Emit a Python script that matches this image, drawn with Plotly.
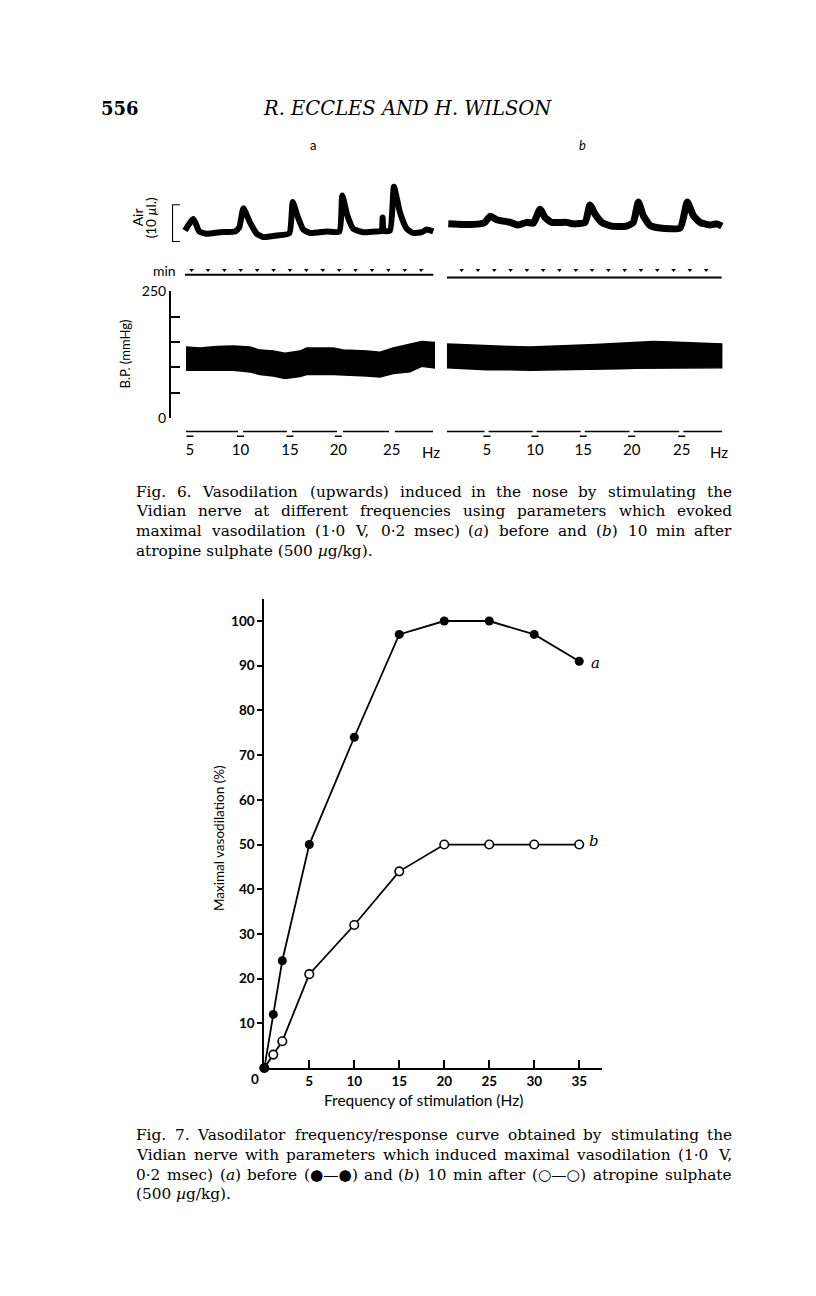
import re
import plotly.graph_objects as go

W, H = 816, 1296

# ---------------- Fig. 7 data ----------------
freq_hz = [0, 1, 2, 5, 10, 15, 20, 25, 30, 35]
before_atropine = [0, 12, 24, 50, 74, 97, 100, 100, 97, 91]
after_atropine = [0, 3, 6, 21, 32, 44, 50, 50, 50, 50]
y_ticks7 = [10, 20, 30, 40, 50, 60, 70, 80, 90, 100]
x_ticks7 = [5, 10, 15, 20, 25, 30, 35]

# ---------------- Fig. 6 data (time in min) ----------------
air_a_t = [0, 0.51, 0.87, 1.32, 2.13, 3.05, 3.31, 3.56, 3.96, 4.37, 4.78, 5.59, 6.36, 6.57, 6.85,
           7.21, 7.62, 8.64, 9.41, 9.59, 9.9, 10.26, 10.87, 11.69, 11.99, 12.05, 12.12, 12.5,
           12.74, 13.11, 13.52, 13.92, 14.43, 14.74, 15.14]
air_a_ul = [3.05, 6.1, 2.8, 2.2, 2.6, 2.8, 3.9, 8.9, 5.2, 2.2, 1.3, 1.7, 2.3, 10.6, 7.0,
            3.3, 2.4, 2.8, 2.8, 12.3, 7.0, 3.5, 2.6, 2.8, 2.95, 6.5, 2.95, 3.05,
            14.6, 7.8, 3.5, 2.4, 2.6, 3.3, 2.8]
air_b_t = [0.08, 1.0, 2.02, 2.33, 2.64, 3.05, 3.87, 4.37, 4.89, 5.3, 5.71, 6.01, 6.42, 7.34,
           7.75, 8.47, 8.77, 9.08, 9.49, 10.1, 11.02, 11.43, 11.74, 12.04, 12.45, 13.07,
           14.3, 14.74, 15.11, 15.52, 16.13, 16.55, 16.86]
air_b_ul = [4.8, 4.6, 4.8, 5.2, 6.8, 5.9, 5.2, 4.5, 5.2, 5.0, 8.7, 6.5, 5.2, 5.2,
            4.8, 5.2, 9.8, 7.4, 5.2, 4.2, 4.2, 5.2, 10.6, 7.0, 4.4, 3.7,
            3.7, 10.6, 7.0, 5.2, 4.5, 4.8, 4.2]
air_scale_ul = 10

bp_a_t = [0.06, 0.91, 1.93, 2.95, 3.96, 4.57, 5.38, 6.10, 7.01, 7.42, 9.04, 9.65, 11.08,
          11.89, 12.70, 13.72, 14.43, 15.20]
bp_a_sys = [140, 138, 141, 142, 140, 134, 132, 128, 132, 138, 138, 134, 132, 130, 138, 146, 151, 149]
bp_a_dia = [94, 93, 94, 94, 91, 86, 83, 78, 82, 86, 86, 86, 83, 81, 88, 91, 102, 99]

bp_b_t = [0.0, 1.2, 2.44, 3.8, 5.09, 6.3, 7.55, 9.1, 10.61, 11.6, 12.66, 13.7, 14.71, 15.8, 16.85]
bp_b_sys = [146, 144, 143, 141, 140, 141, 143, 145, 147, 149, 151, 150, 149, 148, 146]
bp_b_dia = [99, 97, 95, 95, 94, 95, 95, 96, 97, 98, 99, 99, 99, 99, 99]
bp_ticks = [0, 50, 100, 150, 200, 250]

min_marks_a = [0.4, 1.4, 2.4, 3.4, 4.4, 5.4, 6.4, 7.4, 8.4, 9.4, 10.4, 11.4, 12.4, 13.4, 14.4]
min_marks_b = [0.9, 1.9, 2.9, 3.9, 4.9, 5.9, 6.9, 7.9, 8.9, 9.9, 10.9, 11.9, 12.9, 13.9, 14.9, 15.9]

stim_a_t = [0.3, 3.38, 6.4, 9.35, 12.6]
stim_b_t = [2.45, 5.4, 8.36, 11.33, 14.4]
stim_freq = ["5", "10", "15", "20", "25"]
stim_line_a_t = [0.06, 3.23, None, 3.54, 6.22, None, 6.52, 9.27, None, 9.63, 12.44, None, 12.8, 15.12]
stim_line_b_t = [0.0, 2.3, None, 2.55, 5.25, None, 5.5, 8.2, None, 8.45, 11.2, None, 11.45, 14.25,
                 None, 14.5, 16.87]

# ---------------- page geometry ----------------
OX = -8
DY_HEAD = -14
DY_F6 = -12
DY_CAP6 = -9
DY_F7 = -8
DY_CAP7 = -4


def fx(px):
    return (px + OX) / W


def fy(py, dy):
    return 1 - (py + dy) / H


A_X = (171, 436)
B_X = (440, 726)
A_T0, A_S = 185, 16.4
B_T0, B_S = 447, 16.3
AIR_Y = (176, 282)
AIR_BASE, AIR_S = 240, 3.83
BP_Y = (290, 418.3)
STIM_Y = (424, 440)
F7_X = (264.3, 601.7)
F7_Y = (597.4, 1073)

range_a = [(A_X[0] - A_T0) / A_S, (A_X[1] - A_T0) / A_S]
range_b = [(B_X[0] - B_T0) / B_S, (B_X[1] - B_T0) / B_S]
air_range = [(AIR_BASE - AIR_Y[1]) / AIR_S, (AIR_BASE - AIR_Y[0]) / AIR_S]
min_dot_v = (AIR_BASE - 268.3) / AIR_S
min_line_va = (AIR_BASE - 273.3) / AIR_S
min_line_vb = (AIR_BASE - 276) / AIR_S

SANS = "Lato"
SERIF = "DejaVu Serif"

fig = go.Figure()

# Air traces
fig.add_trace(go.Scatter(x=air_a_t, y=air_a_ul, mode="lines",
                         line=dict(color="black", width=6, shape="spline", smoothing=0.5),
                         xaxis="x", yaxis="y"))
fig.add_trace(go.Scatter(x=air_b_t, y=air_b_ul, mode="lines",
                         line=dict(color="black", width=7, shape="spline", smoothing=0.5),
                         xaxis="x2", yaxis="y2"))
# minute marks
fig.add_trace(go.Scatter(x=min_marks_a, y=[min_dot_v] * len(min_marks_a), mode="markers",
                         marker=dict(symbol="triangle-down", size=4, color="black"),
                         xaxis="x", yaxis="y"))
fig.add_trace(go.Scatter(x=[air_a_t[0], air_a_t[-1]], y=[min_line_va] * 2, mode="lines",
                         line=dict(color="black", width=2), xaxis="x", yaxis="y"))
fig.add_trace(go.Scatter(x=min_marks_b, y=[min_dot_v] * len(min_marks_b), mode="markers",
                         marker=dict(symbol="triangle-down", size=4, color="black"),
                         xaxis="x2", yaxis="y2"))
fig.add_trace(go.Scatter(x=[bp_b_t[0], bp_b_t[-1]], y=[min_line_vb] * 2, mode="lines",
                         line=dict(color="black", width=2), xaxis="x2", yaxis="y2"))

# BP bands
fig.add_trace(go.Scatter(x=bp_a_t + bp_a_t[::-1], y=bp_a_sys + bp_a_dia[::-1], mode="lines",
                         fill="toself", fillcolor="black", line=dict(color="black", width=1.5),
                         xaxis="x3", yaxis="y3"))
fig.add_trace(go.Scatter(x=bp_b_t + bp_b_t[::-1], y=bp_b_sys + bp_b_dia[::-1], mode="lines",
                         fill="toself", fillcolor="black", line=dict(color="black", width=1.5),
                         xaxis="x4", yaxis="y4"))

# stimulus lines
fig.add_trace(go.Scatter(x=stim_line_a_t, y=[0 if t is not None else None for t in stim_line_a_t],
                         mode="lines", line=dict(color="black", width=1.5), connectgaps=False,
                         xaxis="x5", yaxis="y5"))
fig.add_trace(go.Scatter(x=stim_a_t[:4], y=[-0.6] * 4, mode="markers",
                         marker=dict(symbol="line-ew", size=5, line=dict(color="black", width=1.5)),
                         xaxis="x5", yaxis="y5"))
fig.add_trace(go.Scatter(x=stim_line_b_t, y=[0 if t is not None else None for t in stim_line_b_t],
                         mode="lines", line=dict(color="black", width=1.5), connectgaps=False,
                         xaxis="x6", yaxis="y6"))
fig.add_trace(go.Scatter(x=stim_b_t, y=[-0.6] * 5, mode="markers",
                         marker=dict(symbol="line-ew", size=5, line=dict(color="black", width=1.5)),
                         xaxis="x6", yaxis="y6"))
# air scale bracket (10 ul)
fig.add_trace(go.Scatter(x=[1, 0, 0, 1], y=[air_scale_ul, air_scale_ul, 0, 0], mode="lines",
                         line=dict(color="black", width=2.2), xaxis="x7", yaxis="y7",
                         cliponaxis=False))

# Fig 7 curves
fig.add_trace(go.Scatter(x=freq_hz, y=before_atropine, mode="lines+markers",
                         line=dict(color="black", width=1.8),
                         marker=dict(symbol="circle", size=9, color="black"),
                         xaxis="x8", yaxis="y8", cliponaxis=False))
fig.add_trace(go.Scatter(x=freq_hz, y=after_atropine, mode="lines+markers",
                         line=dict(color="black", width=1.8),
                         marker=dict(symbol="circle", size=8.5, color="white",
                                     line=dict(color="black", width=1.6)),
                         xaxis="x8", yaxis="y8", cliponaxis=False))
fig.add_trace(go.Scatter(x=freq_hz[:1], y=before_atropine[:1], mode="markers",
                         marker=dict(symbol="circle", size=9, color="black"),
                         xaxis="x8", yaxis="y8", cliponaxis=False))

hidden = dict(visible=False, showgrid=False, zeroline=False)


def xdom(p):
    return [fx(p[0]), fx(p[1])]


def ydom(p, dy):
    return [fy(p[1], dy), fy(p[0], dy)]


layout = dict(
    width=W, height=H, margin=dict(l=0, r=0, t=0, b=0),
    paper_bgcolor="white", plot_bgcolor="rgba(0,0,0,0)", showlegend=False,
    xaxis=dict(hidden, domain=xdom(A_X), range=range_a, anchor="y"),
    yaxis=dict(hidden, domain=ydom(AIR_Y, DY_F6), range=air_range, anchor="x"),
    xaxis2=dict(hidden, domain=xdom(B_X), range=range_b, anchor="y2"),
    yaxis2=dict(hidden, domain=ydom(AIR_Y, DY_F6), range=air_range, anchor="x2"),
    xaxis3=dict(hidden, domain=xdom(A_X), range=range_a, anchor="y3"),
    yaxis3=dict(domain=ydom(BP_Y, DY_F6), range=[0, 250], anchor="x3",
                showline=True, linecolor="black", linewidth=2, ticks="inside", ticklen=9,
                tickwidth=2, tickcolor="black", tickvals=bp_ticks,
                ticktext=["0", "", "", "", "", "250"], showgrid=False, zeroline=False,
                tickfont=dict(family=SANS, size=14, color="black")),
    xaxis4=dict(hidden, domain=xdom(B_X), range=range_b, anchor="y4"),
    yaxis4=dict(hidden, domain=ydom(BP_Y, DY_F6), range=[0, 250], anchor="x4"),
    xaxis5=dict(domain=xdom(A_X), range=range_a, anchor="y5",
                showline=False, showgrid=False, zeroline=False, ticks="",
                tickvals=stim_a_t, ticktext=stim_freq,
                tickfont=dict(family=SANS, size=15, color="black")),
    yaxis5=dict(hidden, domain=ydom(STIM_Y, DY_F6), range=[-1, 1], anchor="x5"),
    xaxis6=dict(domain=xdom(B_X), range=range_b, anchor="y6",
                showline=False, showgrid=False, zeroline=False, ticks="",
                tickvals=stim_b_t, ticktext=stim_freq,
                tickfont=dict(family=SANS, size=15, color="black")),
    yaxis6=dict(hidden, domain=ydom(STIM_Y, DY_F6), range=[-1, 1], anchor="x6"),
    xaxis7=dict(hidden, domain=xdom((172, 180)), range=[0, 1], anchor="y7"),
    yaxis7=dict(hidden, domain=ydom((201.7, 240), DY_F6), range=[0, air_scale_ul], anchor="x7"),
    xaxis8=dict(domain=xdom(F7_X), range=[0, 37.5], anchor="y8",
                showline=True, linecolor="black", linewidth=2, ticks="inside", ticklen=8,
                tickwidth=2, tickcolor="black", tickvals=x_ticks7, showgrid=False,
                zeroline=False, tickfont=dict(family=SANS, size=13.5, color="black", weight="bold")),
    yaxis8=dict(domain=ydom(F7_Y, DY_F7), range=[0, 105], anchor="x8",
                showline=True, linecolor="black", linewidth=2, ticks="outside", ticklen=5,
                tickwidth=2, tickcolor="black", tickvals=y_ticks7, showgrid=False,
                zeroline=False, tickfont=dict(family=SANS, size=13.5, color="black", weight="bold")),
)
fig.update_layout(**layout)


def ann(text, px, py, dy, size, family=SANS, xanchor="center", angle=0, **kw):
    fig.add_annotation(text=text, x=fx(px), y=fy(py, dy), xref="paper", yref="paper",
                       xanchor=xanchor, yanchor="middle", showarrow=False, textangle=angle,
                       borderpad=0, font=dict(family=family, size=size, color="black", **kw))


# approximate DejaVu Serif advance widths (em) for justification
CW = {' ': .318, '.': .318, ',': .318, '(': .39, ')': .39, '/': .337, '·': .318, '—': 1.0,
      '●': .85, '○': .85, 'µ': .64, 'a': .596, 'b': .64, 'c': .56, 'd': .64, 'e': .592, 'f': .37,
      'g': .64, 'h': .644, 'i': .32, 'j': .31, 'k': .606, 'l': .32, 'm': .948, 'n': .644,
      'o': .602, 'p': .64, 'q': .64, 'r': .478, 's': .513, 't': .402, 'u': .644, 'v': .565,
      'w': .87, 'x': .564, 'y': .58, 'z': .527, 'F': .72, 'V': .77, 'I': .37}


def text_w(s, size):
    plain = re.sub(r"<[^>]+>", "", s)
    tot = 0
    for ch in plain:
        if ch in CW:
            tot += CW[ch]
        elif ch.isdigit():
            tot += .636
        elif ch.isupper():
            tot += .74
        else:
            tot += .6
    return tot * size * 1.01


def justified(line, left, right, py, dy, size):
    words = line.split(" ")
    ws = [text_w(w, size) for w in words]
    gap = (right - left - sum(ws)) / (len(words) - 1)
    n = len(words)
    half = n // 2
    pos = left
    for i in range(half):
        ann(words[i], pos, py, dy, size, SERIF, xanchor="left")
        pos += ws[i] + gap
    pos = right
    for i in range(n - 1, half - 1, -1):
        ann(words[i], pos, py, dy, size, SERIF, xanchor="right")
        pos -= ws[i] + gap


CAP_SIZE = 15.3

# header
ann("<b>556</b>", 100, 107, DY_HEAD, 18, SERIF, xanchor="left")
ann("<i>R. ECCLES AND H. WILSON</i>", 407, 107, DY_HEAD, 19.5, SERIF)

# fig 6 labels
ann("a", 313, 144, DY_HEAD, 13)
ann("<i>b</i>", 582, 144, DY_HEAD, 13)
ann("Air", 137, 215, DY_F6, 14, angle=-90)
ann("(10 <i>µ</i>l.)", 151, 216, DY_F6, 13.5, angle=-90)
ann("min", 177, 269, DY_F6, 14, xanchor="right")
ann("B.P. (mmHg)", 125, 353, DY_F6, 13, angle=-90)
ann("Hz", 431, 453, DY_F6, 15)
ann("Hz", 719, 453, DY_F6, 15)

cap6 = [
    "Fig. 6. Vasodilation (upwards) induced in the nose by stimulating the",
    "Vidian nerve at different frequencies using parameters which evoked",
    "maximal vasodilation (1·0 V, 0·2 msec) (<i>a</i>) before and (<i>b</i>) 10 min after",
    "atropine sulphate (500 <i>µ</i>g/kg).",
]
for i, line in enumerate(cap6):
    if i < 3:
        justified(line, 135, 733, 490 + 20 * i, DY_CAP6, CAP_SIZE)
    else:
        ann(line, 135, 490 + 20 * i, DY_CAP6, CAP_SIZE, SERIF, xanchor="left")

# fig 7 labels
ann("<b>0</b>", 255, 1084, DY_F7, 13.5)
ann("Frequency of stimulation (Hz)", 423, 1105, DY_F7, 15.5)
ann("Maximal vasodilation (%)", 219, 840, DY_F7, 13.5, angle=-90)
ann("<i>a</i>", 595, 663, DY_F7, 15, SERIF)
ann("<i>b</i>", 594, 843, DY_F7, 15, SERIF)

cap7 = [
    "Fig. 7. Vasodilator frequency/response curve obtained by stimulating the",
    "Vidian nerve with parameters which induced maximal vasodilation (1·0 V,",
    "0·2 msec) (<i>a</i>) before (●—●) and (<i>b</i>) 10 min after (○—○) atropine sulphate",
    "(500 <i>µ</i>g/kg).",
]
for i, line in enumerate(cap7):
    if i < 3:
        justified(line, 135, 733, 1137 + 20 * i, DY_CAP7, CAP_SIZE)
    else:
        ann(line, 135, 1137 + 20 * i, DY_CAP7, CAP_SIZE, SERIF, xanchor="left")

fig.write_html("out.html")
